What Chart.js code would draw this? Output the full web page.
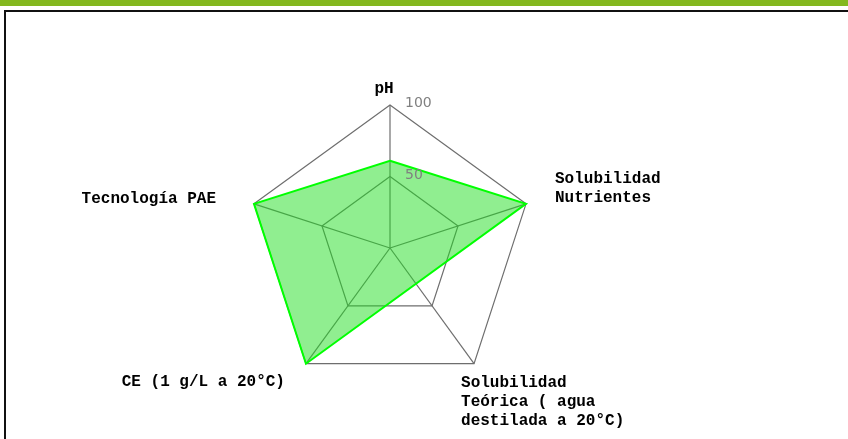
<!DOCTYPE html>
<html lang="es">
<head>
  <meta charset="UTF-8" />
  <title>Radar</title>
  <script src="https://cdn.jsdelivr.net/npm/chart.js"></script>
  <style>
    body {
      margin: 0;
      background: #fff;
      width: 848px;
      height: 439px;
      overflow: hidden;
      position: relative;
    }
    .barra {
      position: absolute;
      left: 0;
      top: 0;
      width: 848px;
      height: 6px;
      background: #84b81f;
    }
    .panel {
      position: absolute;
      left: 4px;
      top: 10px;
      width: 900px;
      height: 500px;
      border: 2px solid #111;
      background: #fff;
    }
    .grafico {
      position: absolute;
      left: 0;
      top: 0;
      width: 848px;
      height: 439px;
    }
  </style>
</head>
<body>
  <div class="barra"></div>
  <div class="panel"></div>
  <div class="grafico"><canvas id="grafico"></canvas></div>

  <script>
    const categorias = [
      'pH',
      ['Solubilidad', 'Nutrientes'],
      ['Solubilidad', 'Teórica ( agua', 'destilada a 20°C)'],
      'CE (1 g/L a 20°C)',
      'Tecnología PAE'
    ];
    const valores = [61, 100, null, 100, 100];
    const marcas = [50, 100];

    // desplazamiento del texto de cada eje respecto al vértice exterior
    const posEtiquetas = [
      { align: 'center', dx: -6, dy: -12 },
      { align: 'left', dx: 29, dy: -21 },
      { align: 'left', dx: -13, dy: 23 },
      { align: 'right', dx: -21, dy: 22 },
      { align: 'right', dx: -38, dy: -1 }
    ];

    const etiquetas = {
      id: 'etiquetas',
      afterDraw(chart) {
        const r = chart.scales.r;
        const ctx = chart.ctx;
        ctx.save();
        ctx.fillStyle = '#000';
        ctx.font = 'bold 16px "Liberation Mono", monospace';
        ctx.textBaseline = 'alphabetic';
        categorias.forEach((cat, i) => {
          const p = r.getPointPosition(i, r.getDistanceFromCenterForValue(100));
          const lineas = Array.isArray(cat) ? cat : [cat];
          const pos = posEtiquetas[i];
          ctx.textAlign = pos.align;
          lineas.forEach((l, j) => {
            ctx.fillText(l, p.x + pos.dx, p.y + pos.dy + j * 19);
          });
        });
        ctx.fillStyle = '#808080';
        ctx.font = '14px "DejaVu Sans", sans-serif';
        ctx.textAlign = 'left';
        marcas.forEach(v => {
          const d = r.getDistanceFromCenterForValue(v);
          ctx.fillText(String(v), r.xCenter + 15, r.yCenter - d + 2);
        });
        ctx.restore();
      }
    };

    new Chart(document.getElementById('grafico'), {
      type: 'radar',
      data: {
        labels: categorias,
        datasets: [{
          data: valores,
          backgroundColor: 'rgba(34, 221, 34, 0.5)',
          borderColor: '#00ff00',
          borderWidth: 2,
          pointRadius: 0,
          pointHoverRadius: 0,
          tension: 0,
          spanGaps: true,
          fill: true
        }]
      },
      options: {
        responsive: true,
        maintainAspectRatio: false,
        animation: false,
        layout: { padding: { left: 0, right: 68, top: 105, bottom: 48 } },
        plugins: {
          legend: { display: false },
          tooltip: { enabled: false }
        },
        scales: {
          r: {
            min: 0,
            max: 100,
            ticks: { stepSize: 50, display: false },
            pointLabels: { display: false },
            grid: { color: '#6e6e6e', lineWidth: 1.2 },
            angleLines: { color: '#6e6e6e', lineWidth: 1.2 }
          }
        }
      },
      plugins: [etiquetas]
    });
  </script>
</body>
</html>
